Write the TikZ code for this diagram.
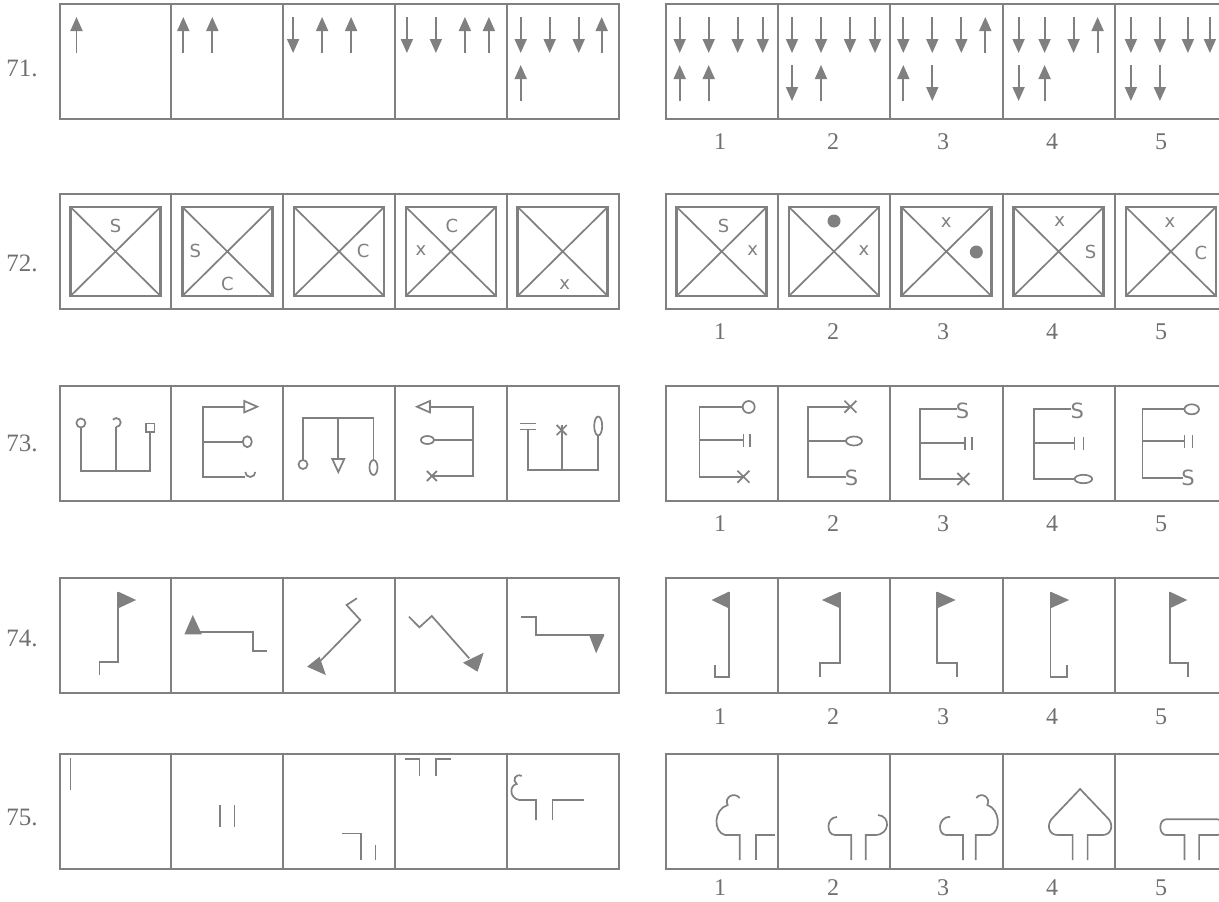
\documentclass[tikz,border=0pt]{standalone}
\usepackage{fontspec}
\setmainfont{Liberation Serif}
\newfontfamily\markfont{DejaVu Sans}
\usetikzlibrary{arrows.meta}
\definecolor{ink}{RGB}{128,128,128}
\definecolor{numgray}{RGB}{112,112,112}

\tikzset{
  frame/.style={draw=ink, line width=2pt},
  stroke/.style={draw=ink, line width=1.7pt},
  arr/.style={draw=ink, line width=1.8pt, -{Triangle[length=14pt,width=12pt]}},
  qnum/.style={text=numgray, font=\fontsize{25}{28}\selectfont},
  optnum/.style={text=numgray, font=\fontsize{24}{28}\selectfont},
  symb/.style={text=ink, inner sep=0pt, font=\markfont\fontsize{18}{20}\selectfont},
  symbig/.style={text=ink, inner sep=0pt, font=\markfont\fontsize{21}{24}\selectfont},
}

% arrows of row 71
\newcommand{\arrup}[2]{\draw[arr] (#1,#2+36) -- (#1,#2);}
\newcommand{\arrdn}[2]{\draw[arr] (#1,#2) -- (#1,#2+36);}
% small cross
\newcommand{\crossat}[3]{\draw[stroke] (#1-#3,#2-#3) -- (#1+#3,#2+#3) (#1-#3,#2+#3) -- (#1+#3,#2-#3);}
% crossed square of row 72
\newcommand{\xsquare}{\draw[draw=ink, line width=2.6pt] (11,13) rectangle (101,102);
  \draw[stroke] (11,13) -- (101,102) (101,13) -- (11,102);}

\begin{document}
\begin{tikzpicture}[x=1pt, y=-1pt]
\useasboundingbox (0,0) rectangle (1219,902);
\fill[white] (0,0) rectangle (1219,902);

% frames
\foreach \t in {4,194,386,578,754} {
  \draw[frame] (59.5,\t) rectangle (618.5,\t+115);
  \foreach \i in {1,...,4} \draw[frame] ({59.5+111.8*\i},\t) -- ++(0,115);
  \draw[frame] (665.7,\t) rectangle (1227,\t+115);
  \foreach \i in {1,...,4} \draw[frame] ({665.7+112.3*\i},\t) -- ++(0,115);
}

% question numbers
\node[qnum] (q71) at (22,68) {71.};
\node[qnum] (q72) at (22,263) {72.};
\node[qnum] (q73) at (22,443) {73.};
\node[qnum] (q74) at (22,638) {74.};
\node[qnum] (q75) at (22,817) {75.};

% answer numbers
\foreach \r/\y in {71/142,72/332,73/524,74/717,75/888}
  \foreach \n/\x in {1/720,2/833,3/943,4/1052,5/1161}
    \node[optnum] (o\r-\n) at (\x,\y) {\n};

% ---- 71
\begin{scope}[shift={(59.5,4)}] \arrup{17}{13} \end{scope}
\begin{scope}[shift={(171.3,4)}] \arrup{12}{13} \arrup{41}{13} \end{scope}
\begin{scope}[shift={(283.1,4)}] \arrdn{10}{13} \arrup{39}{13} \arrup{68}{13} \end{scope}
\begin{scope}[shift={(394.9,4)}] \arrdn{12}{13} \arrdn{41}{13} \arrup{70}{13} \arrup{94}{13} \end{scope}
\begin{scope}[shift={(506.7,4)}] \arrdn{14}{13} \arrdn{43}{13} \arrdn{72}{13} \arrup{95}{13} \arrup{14}{61} \end{scope}
\begin{scope}[shift={(665.7,4)}] \arrdn{14}{13} \arrdn{43}{13} \arrdn{72}{13} \arrdn{97}{13} \arrup{14}{61} \arrup{43}{61} \end{scope}
\begin{scope}[shift={(778,4)}] \arrdn{14}{13} \arrdn{43}{13} \arrdn{72}{13} \arrdn{97}{13} \arrdn{14}{61} \arrup{43}{61} \end{scope}
\begin{scope}[shift={(890.3,4)}] \arrdn{13}{13} \arrdn{42}{13} \arrdn{71}{13} \arrup{95}{13} \arrup{13}{61} \arrdn{42}{61} \end{scope}
\begin{scope}[shift={(1002.6,4)}] \arrdn{16}{13} \arrdn{42}{13} \arrdn{71}{13} \arrup{95}{13} \arrdn{16}{61} \arrup{42}{61} \end{scope}
\begin{scope}[shift={(1114.9,4)}] \arrdn{16}{13} \arrdn{45}{13} \arrdn{73}{13} \arrdn{95}{13} \arrdn{16}{61} \arrdn{45}{61} \end{scope}

% ---- 72
\begin{scope}[shift={(59.5,194)}] \xsquare
  \node[symb] (a72a) at (56,32) {S}; \end{scope}
\begin{scope}[shift={(171.3,194)}] \xsquare
  \node[symb] (a72b) at (24,57) {S}; \node[symb] (b72b) at (56,90) {C}; \end{scope}
\begin{scope}[shift={(283.1,194)}] \xsquare
  \node[symb] (a72c) at (80,57) {C}; \end{scope}
\begin{scope}[shift={(394.9,194)}] \xsquare
  \node[symb] (a72d) at (57,32) {C}; \node[symb] (b72d) at (26,57) {x}; \end{scope}
\begin{scope}[shift={(506.7,194)}] \xsquare
  \node[symb] (a72e) at (58,91) {x}; \end{scope}
\begin{scope}[shift={(665.7,194)}] \xsquare
  \node[symb] (c72a) at (58,32) {S}; \node[symb] (d72a) at (87,57) {x}; \end{scope}
\begin{scope}[shift={(778,194)}] \xsquare
  \fill[ink] (56,27) circle[radius=6.5]; \node[symb] (d72b) at (86,57) {x}; \end{scope}
\begin{scope}[shift={(890.3,194)}] \xsquare
  \node[symb] (c72c) at (56,29) {x}; \fill[ink] (86,58) circle[radius=6.5]; \end{scope}
\begin{scope}[shift={(1002.6,194)}] \xsquare
  \node[symb] (c72d) at (57,28) {x}; \node[symb] (d72d) at (88,58) {S}; \end{scope}
\begin{scope}[shift={(1114.9,194)}] \xsquare
  \node[symb] (c72e) at (55,29) {x}; \node[symb] (d72e) at (86,59) {C}; \end{scope}

% ---- 73
\begin{scope}[shift={(59.5,386)}]
  \draw[stroke] (21.4,41.5) -- (21.4,85) -- (90.7,85) -- (90.7,46);
  \draw[stroke] (56.7,85) -- (56.7,41);
  \draw[stroke] (21.4,37) circle[radius=4.5];
  \draw[stroke] (56.7,41) arc[start angle=90, end angle=-140, radius=4.5];
  \draw[stroke] (86.4,37.5) rectangle (95,46);
\end{scope}
\begin{scope}[shift={(171.3,386)}]
  \draw[stroke] (73,20.7) -- (31.8,20.7) -- (31.8,90.7) -- (74,90.7);
  \draw[stroke] (31.8,55.7) -- (71.5,55.7);
  \draw[stroke] (73,15) -- (86,20.7) -- (73,26.4) -- cycle;
  \draw[stroke] (76,55.7) ellipse[x radius=4.5, y radius=5.5];
  \draw[stroke] (74,86) arc[start angle=180, end angle=0, radius=5];
\end{scope}
\begin{scope}[shift={(283.1,386)}]
  \draw[stroke] (19.9,74) -- (19.9,32.3) -- (90.4,32.3) -- (90.4,74);
  \draw[stroke] (55.2,32.3) -- (55.2,73);
  \draw[stroke] (19.9,78.5) circle[radius=4.5];
  \draw[stroke] (49.2,73) -- (61.2,73) -- (55.2,86) -- cycle;
  \draw[stroke] (90.4,81.5) ellipse[x radius=4, y radius=7.5];
\end{scope}
\begin{scope}[shift={(394.9,386)}]
  \draw[stroke] (35,20.7) -- (78.4,20.7) -- (78.4,90) -- (37,90);
  \draw[stroke] (78.4,54) -- (39,54);
  \draw[stroke] (35,15) -- (22,20.7) -- (35,26.4) -- cycle;
  \draw[stroke] (32.5,54) ellipse[x radius=6.5, y radius=4];
  \crossat{37}{90}{5}
\end{scope}
\begin{scope}[shift={(506.7,386)}]
  \draw[stroke] (21,43.5) -- (21,84) -- (91.5,84) -- (91.5,49.5);
  \draw[stroke] (55,84) -- (55,39);
  \draw[stroke] (13,37.5) -- (29,37.5) (13,43.5) -- (29,43.5);
  \crossat{55}{44}{5}
  \draw[stroke] (91.5,40) ellipse[x radius=4, y radius=9.5];
\end{scope}
\begin{scope}[shift={(665.7,386)}]
  \draw[stroke] (77,20.7) -- (33.8,20.7) -- (33.8,90.7) -- (77.7,90.7);
  \draw[stroke] (33.8,54) -- (77.7,54);
  \draw[stroke] (83,21) circle[radius=6];
  \draw[stroke] (77.7,47.5) -- (77.7,60.5) (84.5,47.5) -- (84.5,60.5);
  \crossat{77.7}{90.7}{6}
\end{scope}
\begin{scope}[shift={(778,386)}]
  \draw[stroke] (72.4,20.7) -- (30,20.7) -- (30,90.7) -- (68,90.7);
  \draw[stroke] (30,55) -- (68,55);
  \crossat{72.4}{20.7}{6}
  \draw[stroke] (76,55) ellipse[x radius=8, y radius=4.5];
  \node[symbig] (s73b) at (73.5,92) {S};
\end{scope}
\begin{scope}[shift={(890.3,386)}]
  \draw[stroke] (67,23.3) -- (29.7,23.3) -- (29.7,93) -- (73,93);
  \draw[stroke] (29.7,57.3) -- (75,57.3);
  \node[symbig] (s73c) at (72.3,24.7) {S};
  \draw[stroke] (75,50.7) -- (75,64) (81.5,50.7) -- (81.5,64);
  \crossat{73}{93}{6}
\end{scope}
\begin{scope}[shift={(1002.6,386)}]
  \draw[stroke] (68,23.3) -- (31.6,23.3) -- (31.6,93) -- (72,93);
  \draw[stroke] (31.6,57.3) -- (72,57.3);
  \node[symbig] (s73d) at (74.7,24.7) {S};
  \draw[stroke] (72,50.7) -- (72,64) (81,50.7) -- (81,64);
  \draw[stroke] (80.8,93) ellipse[x radius=8.8, y radius=4.2];
\end{scope}
\begin{scope}[shift={(1114.9,386)}]
  \draw[stroke] (69.5,23.3) -- (27.7,23.3) -- (27.7,92.3) -- (68,92.3);
  \draw[stroke] (27.7,55) -- (69.5,55);
  \draw[stroke] (76.8,23.3) ellipse[x radius=7.3, y radius=5];
  \draw[stroke] (69.5,49) -- (69.5,62) (77.5,49) -- (77.5,62);
  \node[symbig] (s73e) at (73.2,92.3) {S};
\end{scope}

% ---- 74
\begin{scope}[shift={(59.5,578)}]
  \draw[stroke] (40.1,97) -- (40.1,83.7) -- (58.8,83.7) -- (58.8,14);
  \fill[ink] (58.8,13.7) -- (58.8,30.3) -- (76.6,22) -- cycle;
\end{scope}
\begin{scope}[shift={(171.3,578)}]
  \fill[ink] (13.1,56.3) -- (30.5,56.3) -- (21.5,37) -- cycle;
  \draw[stroke] (21.5,54) -- (81.6,54) -- (81.6,73) -- (96,73);
\end{scope}
\begin{scope}[shift={(283.1,578)}]
  \draw[stroke] (73.8,20.3) -- (63.5,27) -- (77.2,42) -- (36.5,83.7);
  \fill[ink] (24,88.7) -- (36.5,78.7) -- (42.7,97) -- cycle;
\end{scope}
\begin{scope}[shift={(394.9,578)}]
  \draw[stroke] (14.1,38.7) -- (24.5,49.3) -- (36.9,38) -- (74.3,80.3);
  \fill[ink] (68,84.7) -- (88.8,74.7) -- (82.6,93.7) -- cycle;
\end{scope}
\begin{scope}[shift={(506.7,578)}]
  \draw[stroke] (14.7,38.7) -- (29.3,38.7) -- (29.3,57) -- (97.7,57);
  \fill[ink] (82.4,57) -- (97.7,57) -- (89.4,75.3) -- cycle;
\end{scope}
\begin{scope}[shift={(665.7,578)}]
  \draw[stroke] (49.5,87) -- (49.5,98.7) -- (63.1,98.7) -- (63.1,14);
  \fill[ink] (45.8,22) -- (63.1,13.7) -- (63.1,30.3) -- cycle;
\end{scope}
\begin{scope}[shift={(778,578)}]
  \draw[stroke] (42,98.7) -- (42,85.3) -- (62.2,85.3) -- (62.2,14);
  \fill[ink] (43.9,22) -- (62.2,13.7) -- (62.2,30.3) -- cycle;
\end{scope}
\begin{scope}[shift={(890.3,578)}]
  \draw[stroke] (66.4,98.7) -- (66.4,85.3) -- (46.9,85.3) -- (46.9,14);
  \fill[ink] (46.9,13.7) -- (46.9,30.3) -- (65.4,22) -- cycle;
\end{scope}
\begin{scope}[shift={(1002.6,578)}]
  \draw[stroke] (64.6,87) -- (64.6,98.7) -- (48,98.7) -- (48,14);
  \fill[ink] (48,13.7) -- (48,30.3) -- (66.5,22) -- cycle;
\end{scope}
\begin{scope}[shift={(1114.9,578)}]
  \draw[stroke] (73.2,98.7) -- (73.2,85.3) -- (54.8,85.3) -- (54.8,14);
  \fill[ink] (54.8,13.7) -- (54.8,30.3) -- (72.4,22) -- cycle;
\end{scope}

% ---- 75
\begin{scope}[shift={(59.5,754)}]
  \draw[stroke] (11,4) -- (11,36);
\end{scope}
\begin{scope}[shift={(171.3,754)}]
  \draw[stroke] (48.6,51) -- (48.6,73) (63.1,51) -- (63.1,73);
\end{scope}
\begin{scope}[shift={(283.1,754)}]
  \draw[stroke] (59.3,79.5) -- (78,79.5) -- (78,106);
  \draw[stroke] (92.5,91) -- (92.5,106);
\end{scope}
\begin{scope}[shift={(394.9,754)}]
  \draw[stroke] (10,5) -- (24.5,5) -- (24.5,22);
  \draw[stroke] (41.1,22) -- (41.1,5) -- (55.6,5);
\end{scope}
\begin{scope}[shift={(506.7,754)}]
  \draw[stroke] (29.3,66) -- (29.3,46) -- (12.7,46) .. controls (2,44) and (3,31) .. (10,30)
    .. controls (5,26) and (9,19) .. (15,22);
  \draw[stroke] (45.9,66) -- (45.9,46) -- (77,46);
\end{scope}
\begin{scope}[shift={(665.7,754)}]
  \draw[stroke] (74,106) -- (74,81) -- (59.4,81) .. controls (47,78) and (48,55) .. (62,51)
    .. controls (58,44) and (68,37) .. (74,44);
  \draw[stroke] (90.5,106) -- (90.5,81) -- (108.8,81);
\end{scope}
\begin{scope}[shift={(778,754)}]
  \draw[stroke] (73.2,106) -- (73.2,81) -- (57,81) .. controls (48,81) and (48,63) .. (59,63);
  \draw[stroke] (87.8,106) -- (87.8,81) -- (97,81) .. controls (112,81) and (113,62) .. (100,61);
\end{scope}
\begin{scope}[shift={(890.3,754)}]
  \draw[stroke] (72.6,106) -- (72.6,81) -- (56.1,81) .. controls (47,81) and (47,63) .. (59.8,62.7);
  \draw[stroke] (85.4,106) -- (85.4,81) -- (100,81) .. controls (111,78) and (110,55) .. (97,51)
    .. controls (101,44) and (91,37) .. (86,44);
\end{scope}
\begin{scope}[shift={(1002.6,754)}]
  \draw[stroke] (70,106) -- (70,81) -- (55,81) .. controls (46,81) and (44,71) .. (49,65)
    -- (77.5,35) -- (106,65) .. controls (111,71) and (109,81) .. (100,81) -- (85,81) -- (85,106);
\end{scope}
\begin{scope}[shift={(1114.9,754)}]
  \draw[stroke] (69.5,106) -- (69.5,81) -- (51.2,81) .. controls (44,81) and (43,66) .. (51.2,65.3)
    -- (102.5,65.3) .. controls (110.7,66) and (109.7,81) .. (102.5,81) -- (84.2,81) -- (84.2,106);
\end{scope}
\end{tikzpicture}
\end{document}
